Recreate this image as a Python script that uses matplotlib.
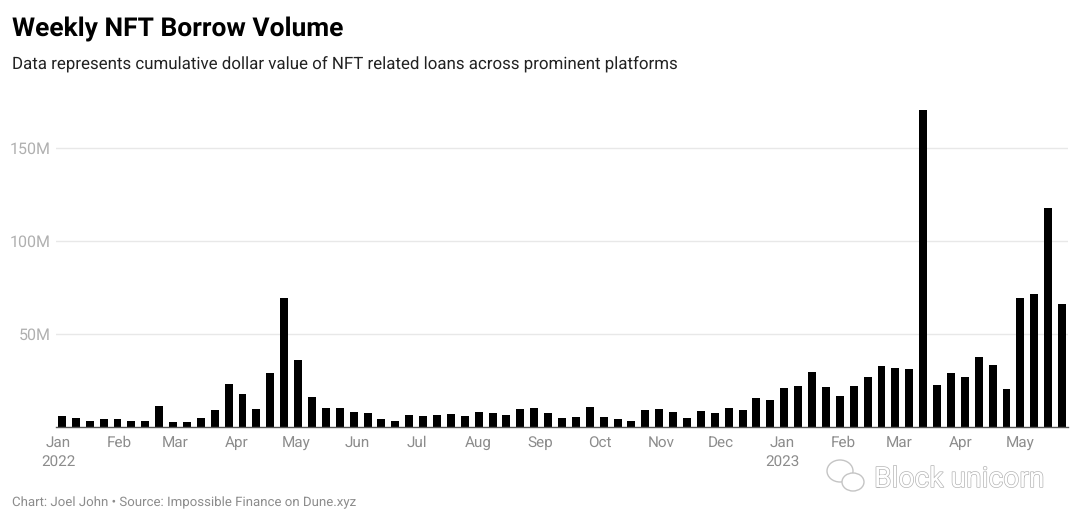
import numpy as np
import matplotlib.pyplot as plt
import matplotlib.patheffects as pe
from matplotlib.patches import Ellipse

def draw_chart():
    first_week = np.datetime64('2022-01-03')
    volume = [6.1, 4.9, 3.4, 4.3, 4.1, 3.4, 3.1, 11.2, 2.5, 2.9, 4.9, 9.0, 23.0, 17.6, 9.7, 29.0, 69.6, 36.0, 16.2,
              10.3, 10.1, 7.9, 7.4, 4.1, 3.4, 6.7, 5.8, 6.7, 7.0, 6.1, 7.9, 7.4, 6.5, 9.7, 10.1,
              7.6, 4.9, 5.4, 10.6, 5.2, 4.1, 3.4, 9.0, 9.7, 7.9, 4.9, 8.5, 7.4, 10.1, 9.0, 15.5, 14.6, 21.2, 22.1,
              29.5, 21.4, 16.6, 22.1, 26.8, 32.8, 31.7, 31.1, 170.5, 22.7, 29.3, 26.8, 37.6, 33.1, 20.3, 69.3, 71.3,
              117.5, 66.0]
    weeks = first_week + np.arange(len(volume)) * np.timedelta64(7, 'D')

    months = np.array(['2022-01-01', '2022-02-01', '2022-03-01', '2022-04-01', '2022-05-01', '2022-06-01',
                       '2022-07-01', '2022-08-01', '2022-09-01', '2022-10-01', '2022-11-01', '2022-12-01',
                       '2023-01-01', '2023-02-01', '2023-03-01', '2023-04-01', '2023-05-01'], dtype='datetime64[D]')
    month_labels = ["Jan\n2022", "Feb", "Mar", "Apr", "May", "Jun", "Jul", "Aug", "Sep", "Oct", "Nov", "Dec",
                    "Jan\n2023", "Feb", "Mar", "Apr", "May"]

    plt.rcParams['font.family'] = 'Roboto'
    plt.rcParams['text.hinting'] = 'no_hinting'
    plt.figure(figsize=(10.8, 5.21), dpi=100)

    # نمودار میله‌ای
    plt.axes([56 / 1080, 1 - 427 / 521, 1012 / 1080, 322.7 / 521])
    plt.bar(weeks, volume, width=4.0, color='black', zorder=3)
    plt.xlim(np.datetime64('2022-01-01') - 1, np.datetime64('2023-05-25'))
    plt.ylim(0, 173.5)
    plt.xticks(months, month_labels, color='#8c8c8c', fontsize=11, linespacing=1.4)
    plt.yticks([50, 100, 150], ["50M", "100M", "150M"], color='#b0b0b0', fontsize=11.5)
    plt.tick_params(axis='both', length=0)
    plt.tick_params(axis='x', pad=6)
    plt.tick_params(axis='y', pad=4)
    plt.grid(True, axis='y', color='#e8e8e8', linewidth=1, zorder=0)
    for side in ['top', 'left', 'right']:
        plt.gca().spines[side].set_visible(False)
    plt.gca().spines['bottom'].set_color('#555555')
    plt.gca().spines['bottom'].set_linewidth(1)
    plt.gca().spines['bottom'].set_zorder(4)

    # عنوان و متن‌ها
    plt.figtext(12 / 1080, 1 - 36 / 521, "Weekly NFT Borrow Volume", fontsize=19, fontweight='bold', color='black')
    plt.figtext(12 / 1080, 1 - 70 / 521, "Data represents cumulative dollar value of NFT related loans across prominent platforms",
                fontsize=12.2, color='#222222')
    plt.figtext(12 / 1080, 1 - 506 / 521, "Chart: Joel John • Source: Impossible Finance on Dune.xyz",
                fontsize=9.55, color='#8c8c8c')
    plt.figtext(874 / 1080, 1 - 487 / 521, "Block unicorn", fontsize=20.3, color='white',
                path_effects=[pe.withStroke(linewidth=1, foreground='#b4b4b4')])

    # نشان کنار متن
    plt.gca().add_artist(Ellipse((840 / 1080, 1 - 471 / 521), 26 / 1080, 22 / 521, transform=plt.gcf().transFigure,
                                 facecolor='white', edgecolor='#c4c4c4', linewidth=1, clip_on=False))
    plt.gca().add_artist(Ellipse((853 / 1080, 1 - 482 / 521), 22 / 1080, 18 / 521, transform=plt.gcf().transFigure,
                                 facecolor='white', edgecolor='#c4c4c4', linewidth=1, clip_on=False))

    plt.savefig('out.png', dpi=100)

draw_chart()
